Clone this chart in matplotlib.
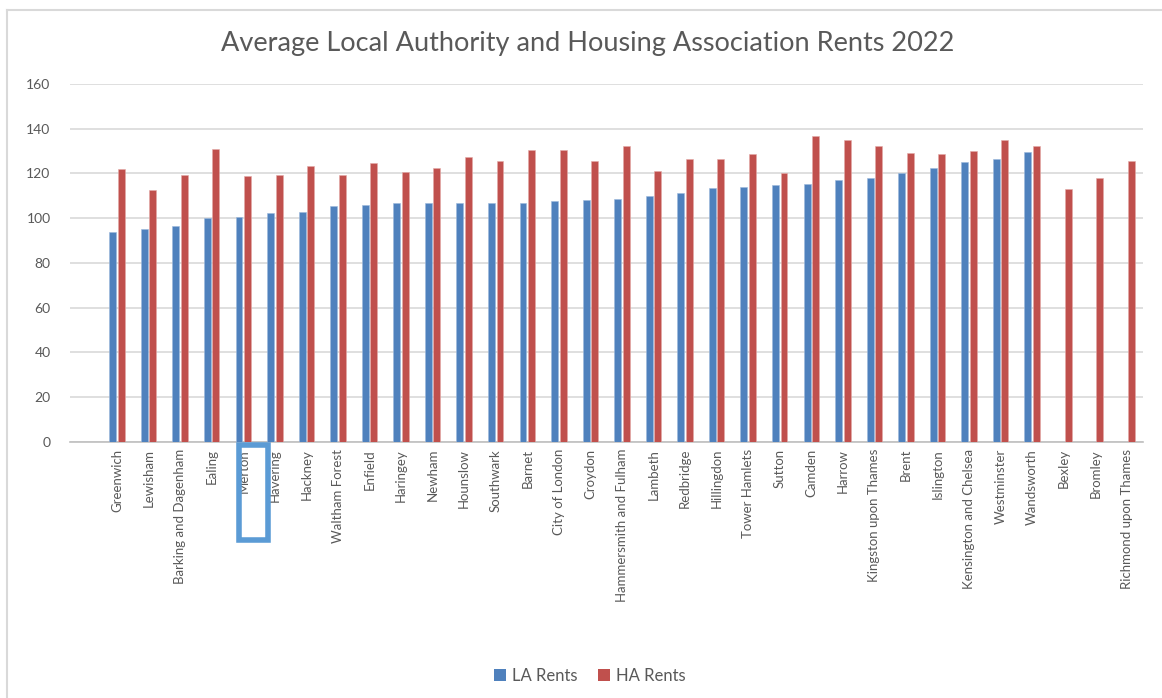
import numpy as np
import matplotlib.pyplot as plt
from matplotlib.patches import Rectangle, Patch
from matplotlib.lines import Line2D

plt.rcParams['font.family'] = ['Lato', 'DejaVu Sans']

# Boroughs, ordered as in the chart
boroughs = ["Greenwich", "Lewisham", "Barking and Dagenham", "Ealing", "Merton",
            "Havering", "Hackney", "Waltham Forest", "Enfield", "Haringey",
            "Newham", "Hounslow", "Southwark", "Barnet", "City of London",
            "Croydon", "Hammersmith and Fulham", "Lambeth", "Redbridge",
            "Hillingdon", "Tower Hamlets", "Sutton", "Camden", "Harrow",
            "Kingston upon Thames", "Brent", "Islington", "Kensington and Chelsea",
            "Westminster", "Wandsworth", "Bexley", "Bromley", "Richmond upon Thames"]

# Average weekly rents
la_rents = [93.8, 95.2, 96.5, 100.0, 100.7, 102.3, 102.9, 105.3, 105.8, 106.6,
            106.6, 106.6, 106.6, 107.0, 107.5, 108.3, 108.8, 110.0, 111.4,
            113.4, 113.9, 114.7, 115.1, 116.9, 118.1, 120.0, 122.5, 125.1,
            126.7, 129.7, np.nan, np.nan, np.nan]
ha_rents = [122.1, 112.7, 119.5, 131.0, 118.7, 119.5, 123.3, 119.5, 124.9, 120.7,
            122.4, 127.2, 125.4, 130.6, 130.6, 125.4, 132.2, 121.2, 126.7,
            126.7, 128.5, 120.4, 136.7, 134.8, 132.2, 129.3, 128.5, 130.1,
            134.8, 132.2, 113.1, 117.8, 125.8]

la_color = '#4F81BD'
ha_color = '#C0504D'
text_gray = '#595959'

fig = plt.figure(figsize=(11.62, 6.98), dpi=100)
ax = fig.add_axes([70 / 1162, 1 - 442 / 698, 1073 / 1162, 358 / 698])

x = np.arange(len(boroughs))
w = 0.22
ax.bar(x - 0.135, la_rents, w, color=la_color, edgecolor='#9db8dc', linewidth=0.4, zorder=3)
ax.bar(x + 0.135, ha_rents, w, color=ha_color, edgecolor='#e3a9a7', linewidth=0.4, zorder=3)

ax.set_ylim(0, 160)
ax.set_yticks(np.arange(0, 161, 20))
ax.set_xlim(-1.49, 32.51)
ax.set_xticks(x)
ax.set_xticklabels(boroughs, rotation=90, va='top', ha='center')
ax.tick_params(axis='both', length=0, colors=text_gray)
ax.tick_params(axis='y', pad=14, labelsize=10)
ax.tick_params(axis='x', pad=5, labelsize=9.5)
ax.grid(axis='y', color='#d9d9d9', linewidth=1.2, zorder=0)
for side in ['top', 'right', 'left']:
    ax.spines[side].set_visible(False)
ax.spines['bottom'].set_color('#bfbfbf')
ax.spines['bottom'].set_linewidth(1.2)

# blue highlight box around the Merton label
box = Rectangle((3.87, -0.008), 0.91, -0.266, transform=ax.get_xaxis_transform(),
                fill=False, edgecolor='#5B9BD5', linewidth=4, clip_on=False, zorder=5)
ax.add_patch(box)

fig.text(588 / 1162, 1 - 44 / 698, 'Average Local Authority and Housing Association Rents 2022',
         ha='center', va='center', fontsize=19.5, color=text_gray)

handles = [Patch(facecolor=la_color), Patch(facecolor=ha_color)]
fig.legend(handles, ['LA Rents', 'HA Rents'], loc='center', ncol=2,
           bbox_to_anchor=(590 / 1162, 1 - 676 / 698), frameon=False,
           fontsize=12, labelcolor=text_gray, handlelength=0.7, handleheight=0.7,
           columnspacing=1.2, handletextpad=0.4)

# light outer border of the chart area
fig.add_artist(Line2D([7 / 1162, 7 / 1162], [0, 1 - 10 / 698], color='#d9d9d9', linewidth=1.5))
fig.add_artist(Line2D([7 / 1162, 1], [1 - 10 / 698, 1 - 10 / 698], color='#d9d9d9', linewidth=1.5))

fig.savefig('out.png', dpi=100)
